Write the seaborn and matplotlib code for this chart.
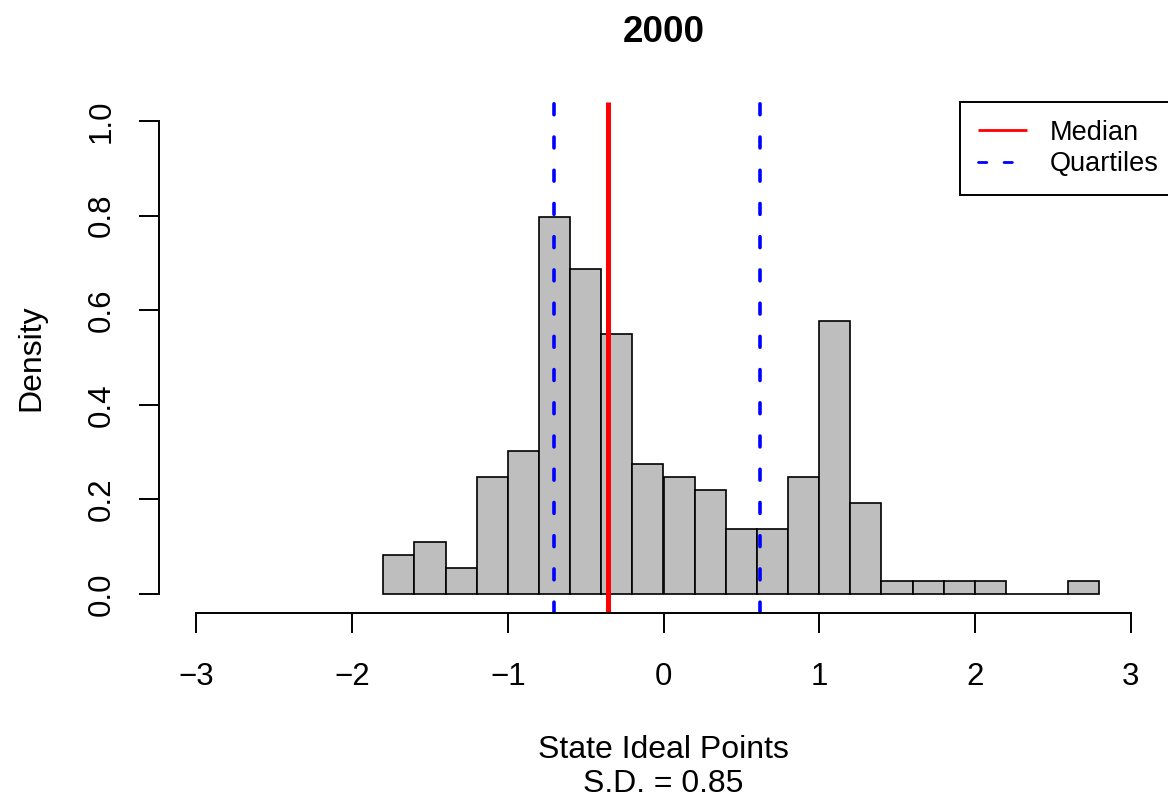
import numpy as np
import pandas as pd
import matplotlib
matplotlib.use("Agg")
import matplotlib.pyplot as plt
import seaborn as sns

# Histogram data: bin edges (width 0.2) and counts per bin (n = 182)
bin_edges = [-1.8, -1.6, -1.4, -1.2, -1.0, -0.8, -0.6, -0.4, -0.2, 0.0, 0.2, 0.4,
             0.6, 0.8, 1.0, 1.2, 1.4, 1.6, 1.8, 2.0, 2.2, 2.4, 2.6, 2.8]
bin_counts = [3, 4, 2, 9, 11, 29, 25, 20, 10, 9, 8, 5,
              5, 9, 21, 7, 1, 1, 1, 1, 0, 0, 1]

# Summary statistics
median_val = -0.354
quartile_vals = [-0.702, 0.619]
sd_val = 0.85

x_ticks = [-3, -2, -1, 0, 1, 2, 3]
y_ticks = [0.0, 0.2, 0.4, 0.6, 0.8, 1.0]
y_tick_labels = ["0.0", "0.2", "0.4", "0.6", "0.8", "1.0"]

sns.set_style("white")
plt.rcParams["font.family"] = ["Liberation Sans", "DejaVu Sans"]
plt.rcParams["text.color"] = "black"
plt.rcParams["axes.labelcolor"] = "black"

bin_mids = [(a + b) / 2 for a, b in zip(bin_edges[:-1], bin_edges[1:])]
df = pd.DataFrame({"ideal": bin_mids, "count": bin_counts})

fig = plt.figure(figsize=(11.68, 8.01), dpi=100)
ax = fig.add_axes([159 / 1168, (801 - 613) / 801, (1168 - 159) / 1168, (613 - 102) / 801])

sns.histplot(data=df, x="ideal", weights="count", bins=bin_edges, stat="density",
             color="#BEBEBE", edgecolor="black", linewidth=1.2, alpha=1, ax=ax)

ax.axvline(median_val, color="red", lw=3.6, label="Median", solid_capstyle="butt")
for i, q in enumerate(quartile_vals):
    ax.axvline(q, color="blue", lw=2.6, linestyle=(0, (3.0, 6.2)),
               dash_capstyle="round", label="Quartiles" if i == 0 else None)

ax.set_xlim(-3.24, 3.24)
ax.set_ylim(-0.04, 1.04)

# R-style axes
for s in ["top", "right"]:
    ax.spines[s].set_visible(False)
ax.spines["left"].set_bounds(0, 1)
ax.spines["bottom"].set_bounds(-3, 3)
for s in ["left", "bottom"]:
    ax.spines[s].set_linewidth(1.4)
    ax.spines[s].set_color("black")

ax.set_xticks(x_ticks)
ax.set_xticklabels(["\u22123", "\u22122", "\u22121", "0", "1", "2", "3"])
ax.set_yticks(y_ticks)
ax.set_yticklabels(y_tick_labels, rotation=90, va="center")
ax.tick_params(axis="both", direction="out", length=14.4, width=1.4, labelsize=22.5,
               colors="black", bottom=True, left=True)
ax.tick_params(axis="x", pad=21)
ax.tick_params(axis="y", pad=16)

ax.set_xlabel("State Ideal Points\nS.D. = %.2f" % sd_val, fontsize=23, linespacing=1.17)
ax.xaxis.set_label_coords(0.5, -0.238)
ax.set_ylabel("Density", fontsize=23)
ax.yaxis.set_label_coords(-0.112, 0.5)
ax.set_title("2000", fontsize=26.5, fontweight="bold", pad=43)

leg = ax.legend(loc="upper right", bbox_to_anchor=(1.008, 1.0), borderaxespad=0,
                fontsize=19.5, frameon=True, fancybox=False, framealpha=1,
                edgecolor="black", handlelength=1.8, handletextpad=0.85,
                labelspacing=0.2, borderpad=0.65)
leg.get_frame().set_linewidth(1.4)
for line in leg.get_lines():
    line.set_linewidth(2.0)

fig.savefig("out.png", dpi=100)
